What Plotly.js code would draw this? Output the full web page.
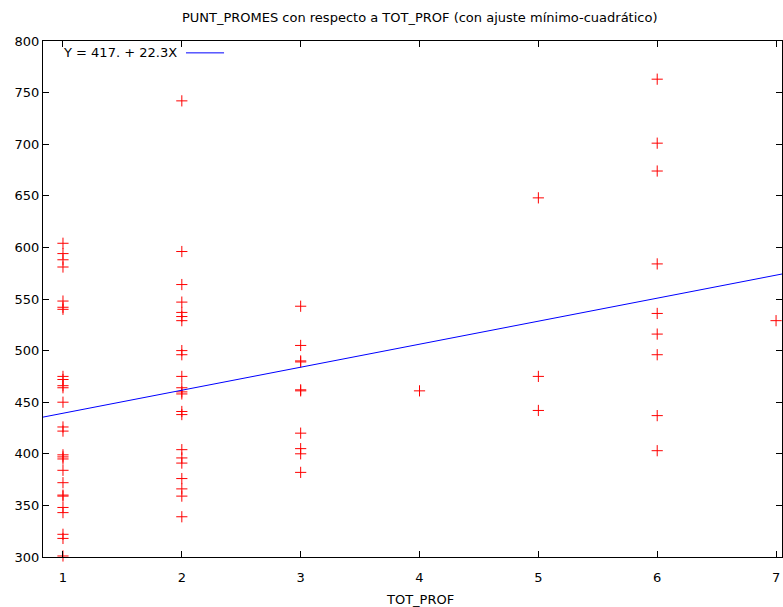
<!DOCTYPE html>
<html>
<head>
<meta charset="utf-8">
<script src="https://cdn.plot.ly/plotly-3.0.1.min.js"></script>
<style>html,body{margin:0;padding:0;background:#fff;}#chart{width:783px;height:607px;}</style>
</head>
<body>
<div id="chart"></div>
<script>
// Data (TOT_PROF vs PUNT_PROMES)
const prof1 = [604, 594, 588, 581, 548, 542, 540, 475, 472, 466, 464, 450, 426, 422, 399, 397, 395, 384, 372, 360, 359, 348, 343, 322, 318, 301];
const prof2 = [742, 596, 564, 547, 537, 533, 529, 500, 496, 475, 464, 460, 458, 441, 438, 404, 396, 391, 376, 366, 359, 339];
const prof3 = [543, 505, 490, 489, 462, 461, 420, 405, 400, 382];
const prof4 = [461];
const prof5 = [648, 475, 442];
const prof6 = [763, 701, 674, 584, 536, 516, 496, 437, 403];
const prof7 = [529];
const groups = [prof1, prof2, prof3, prof4, prof5, prof6, prof7];
const xTicks = [1, 2, 3, 4, 5, 6, 7];
const xTickLabels = ['1', '2', '3', '4', '5', '6', '7'];

// Least squares fit from the legend
const intercept = 417.0;
const slope = 22.3;
const xRange = [0.832, 7.05];
const yRange = [300, 800];

const xs = [], ys = [];
groups.forEach((g, i) => g.forEach(v => { xs.push(xTicks[i]); ys.push(v); }));

const fitX = xRange.slice();
const fitY = fitX.map(x => intercept + slope * x);

const FAM = 'DejaVu Sans, Verdana, sans-serif';
const font = {family: FAM, size: 13, color: '#000'};

const traces = [
  {x: xs, y: ys, type: 'scatter', mode: 'markers', cliponaxis: false,
   marker: {symbol: 'cross-thin', size: 8, color: '#ff0000', line: {color: '#ff0000', width: 1}},
   showlegend: false, hoverinfo: 'x+y'},
  {x: fitX, y: fitY, type: 'scatter', mode: 'lines',
   line: {color: '#0000ff', width: 1}, showlegend: false}
];

const layout = {
  width: 783, height: 607,
  margin: {l: 43, r: 1, t: 41, b: 50},
  paper_bgcolor: '#fff', plot_bgcolor: '#fff',
  font: font,
  title: {text: 'PUNT_PROMES con respecto a TOT_PROF (con ajuste mínimo-cuadrático)',
          font: font, x: 0.536, xanchor: 'center', y: 0.972, yanchor: 'middle'},
  xaxis: {range: xRange, tickvals: xTicks, ticktext: xTickLabels,
          ticks: 'inside', ticklen: 6, tickcolor: '#000', showline: true, linecolor: '#000', linewidth: 1,
          mirror: 'allticks', showgrid: false, zeroline: false, tickfont: font, ticklabelstandoff: 8},
  yaxis: {range: yRange, dtick: 50, tick0: 300,
          ticks: 'inside', ticklen: 6, tickcolor: '#000', showline: true, linecolor: '#000', linewidth: 1,
          mirror: 'allticks', showgrid: false, zeroline: false, tickfont: font},
  annotations: [
    {xref: 'paper', yref: 'paper', x: 0.025, y: 0.977, xanchor: 'left', yanchor: 'middle',
     text: 'Y = 417. + 22.3X', showarrow: false, font: font},
    {xref: 'paper', yref: 'paper', x: 0.51, y: -0.083, xanchor: 'center', yanchor: 'middle',
     text: 'TOT_PROF', showarrow: false, font: font}
  ],
  shapes: [{type: 'line', xref: 'paper', yref: 'paper', x0: 0.1935, x1: 0.245, y0: 0.977, y1: 0.977,
            line: {color: '#0000ff', width: 1}}]
};

Plotly.newPlot('chart', traces, layout, {displayModeBar: false, staticPlot: true});
</script>
</body>
</html>
